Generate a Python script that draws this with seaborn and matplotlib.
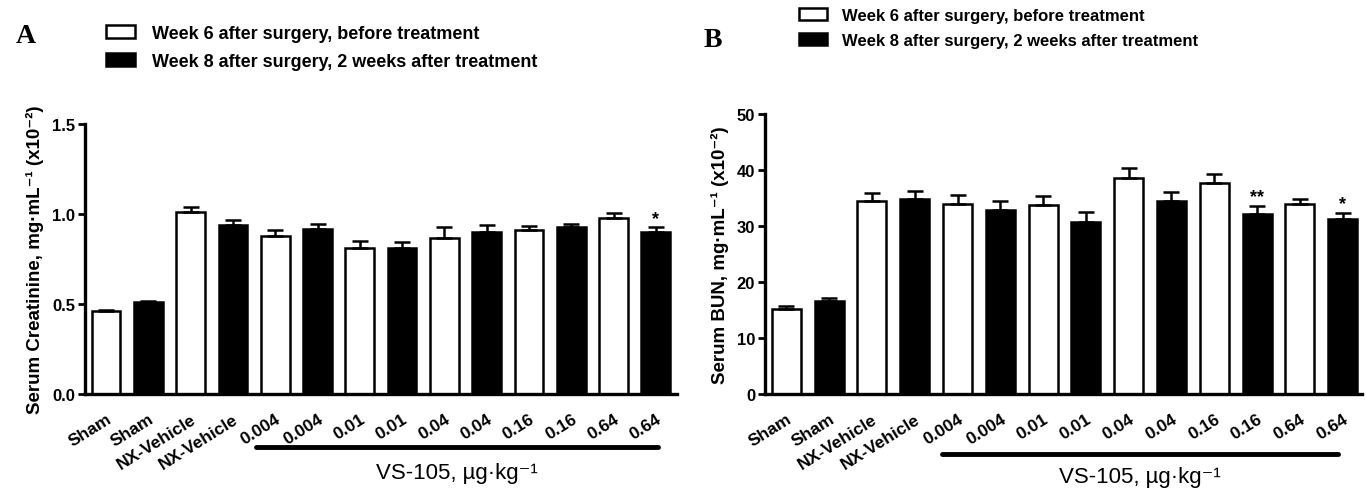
import numpy as np
import pandas as pd
import matplotlib
matplotlib.use("Agg")
import matplotlib.pyplot as plt
import matplotlib.transforms as mtransforms
from matplotlib.patches import Patch
import seaborn as sns

# ---------------- data ----------------
tick_labels = ["Sham", "Sham", "NX-Vehicle", "NX-Vehicle", "0.004", "0.004",
               "0.01", "0.01", "0.04", "0.04", "0.16", "0.16", "0.64", "0.64"]
series = ["Week 6 after surgery, before treatment",
          "Week 8 after surgery, 2 weeks after treatment"] * 7

# Panel A: serum creatinine (x10^-2 mg/mL)
creat_mean = [0.46, 0.51, 1.01, 0.94, 0.88, 0.92, 0.81, 0.81, 0.87, 0.90, 0.91, 0.93, 0.98, 0.90]
creat_err = [0.01, 0.01, 0.028, 0.029, 0.034, 0.023, 0.039, 0.033, 0.056, 0.041, 0.024, 0.014, 0.024, 0.026]
creat_stars = {13: "*"}

# Panel B: serum BUN (x10^-2 mg/mL)
bun_mean = [15.2, 16.7, 34.5, 34.9, 34.0, 32.9, 33.7, 30.8, 38.5, 34.4, 37.6, 32.2, 34.0, 31.2]
bun_err = [0.6, 0.5, 1.3, 1.3, 1.5, 1.5, 1.7, 1.7, 1.9, 1.7, 1.6, 1.4, 0.8, 1.1]
bun_stars = {11: "**", 13: "*"}

# ---------------- style ----------------
sns.set_theme(style="ticks")
plt.rcParams["font.family"] = ["Liberation Sans", "DejaVu Sans"]
plt.rcParams["font.weight"] = "bold"
for k in ("text.color", "axes.labelcolor", "xtick.color", "ytick.color", "axes.edgecolor"):
    plt.rcParams[k] = "black"

palette = {series[0]: "white", series[1]: "black"}

fig = plt.figure(figsize=(13.66, 4.89), dpi=100)
axA = fig.add_axes([0.0622, 0.192, 0.4334, 0.552])
axB = fig.add_axes([0.560, 0.192, 0.437, 0.573])


def draw_panel(ax, means, errs, stars, ylim, yticks, yticklabels, ylabel,
               xlim_right, star_pad, line_x, line_y, text_y):
    pos = [str(i) for i in range(len(means))]
    df = pd.DataFrame({"pos": pos, "value": means, "series": series})
    sns.barplot(data=df, x="pos", y="value", hue="series", order=pos,
                palette=palette, dodge=False, width=0.68, edgecolor="black",
                linewidth=1.8, errorbar=None, legend=False, ax=ax)
    x = np.arange(len(means))
    ax.errorbar(x, means, yerr=[np.zeros(len(errs)), errs], fmt="none",
                ecolor="black", elinewidth=1.8, capsize=6, capthick=1.8, zorder=1)
    for i, s in stars.items():
        ax.text(i, means[i] + errs[i] + star_pad, s, ha="center", va="bottom",
                fontsize=13, fontweight="bold")
    ax.set_xlim(-0.5, xlim_right)
    ax.set_ylim(*ylim)
    ax.set_yticks(yticks)
    ax.set_yticklabels(yticklabels, fontsize=12, fontweight="bold")
    ax.set_xticks(x)
    ax.set_xticklabels(tick_labels, rotation=32, ha="right",
                       rotation_mode="anchor", fontsize=12.5, fontweight="bold")
    ax.tick_params(axis="x", length=0, pad=12)
    ax.tick_params(axis="y", length=5, width=2, pad=2)
    ax.set_xlabel("")
    ax.set_ylabel(ylabel, fontsize=13.5, fontweight="bold", labelpad=6)
    for sp in ("top", "right"):
        ax.spines[sp].set_visible(False)
    for sp in ("left", "bottom"):
        ax.spines[sp].set_linewidth(2.4)
    trans = mtransforms.blended_transform_factory(ax.transData, ax.transAxes)
    ax.plot(line_x, [line_y, line_y], color="black", lw=3.5,
            solid_capstyle="round", transform=trans, clip_on=False)
    ax.text(np.mean(line_x), text_y, "VS-105, µg·kg⁻¹", transform=trans,
            ha="center", va="center", fontsize=16, fontweight="normal")


draw_panel(axA, creat_mean, creat_err, creat_stars, (0, 1.5),
           [0, 0.5, 1.0, 1.5], ["0.0", "0.5", "1.0", "1.5"],
           "Serum Creatinine, mg·mL⁻¹ (x10⁻²)", 13.5, 0.003,
           [3.55, 13.05], -0.195, -0.29)
draw_panel(axB, bun_mean, bun_err, bun_stars, (0, 50),
           [0, 10, 20, 30, 40, 50], ["0", "10", "20", "30", "40", "50"],
           "Serum BUN, mg·mL⁻¹ (x10⁻²)", 13.45, 0.2,
           [3.64, 12.9], -0.215, -0.295)

# legends
handles = [Patch(facecolor="white", edgecolor="black", linewidth=1.8, label=series[0]),
           Patch(facecolor="black", edgecolor="black", linewidth=1.8, label=series[1])]
fig.legend(handles=handles, loc="upper left", bbox_to_anchor=(0.066, 0.98),
           frameon=False, handlelength=1.6, handleheight=0.7,
           labelspacing=0.6, handletextpad=0.9,
           prop={"weight": "bold", "size": 13})
fig.legend(handles=handles, loc="upper left", bbox_to_anchor=(0.574, 1.012),
           frameon=False, handlelength=1.7, handleheight=0.7,
           labelspacing=0.6, handletextpad=0.9,
           prop={"weight": "bold", "size": 12})

fig.text(0.019, 0.925, "A", family=["Liberation Serif", "DejaVu Serif"],
         fontsize=20, fontweight="bold", ha="center", va="center")
fig.text(0.522, 0.918, "B", family=["Liberation Serif", "DejaVu Serif"],
         fontsize=20, fontweight="bold", ha="center", va="center")

fig.savefig("out.png", dpi=100)
